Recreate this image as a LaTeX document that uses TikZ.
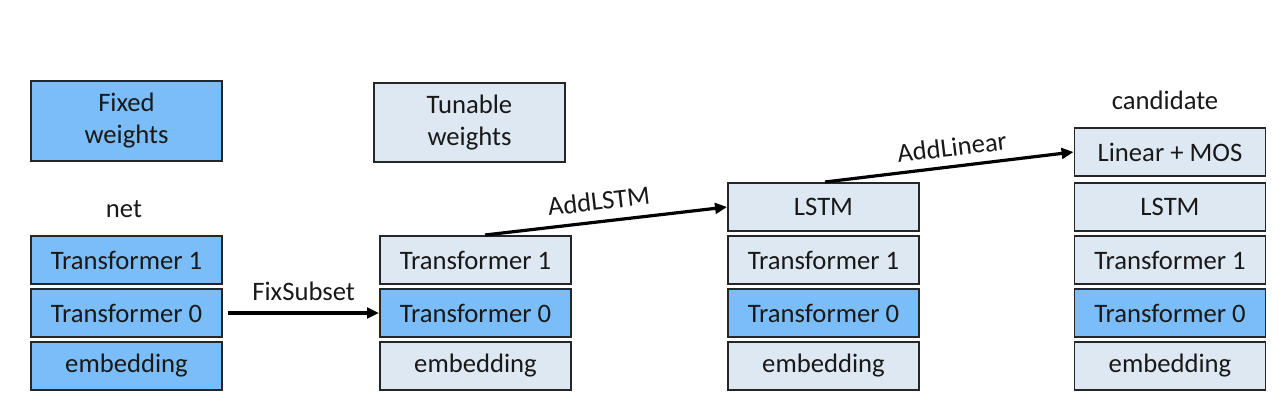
\documentclass[tikz,border=0pt]{standalone}
\usepackage{fontspec}
\setmainfont{Carlito}
\usetikzlibrary{arrows.meta}
\definecolor{fixedc}{HTML}{7BBDF8}
\definecolor{tunec}{HTML}{DEE8F3}
\begin{document}
\begin{tikzpicture}[x=0.75pt,y=-0.75pt,
  lay/.style={draw=black!85,line width=1.4pt,minimum width=191*0.75pt,minimum height=48*0.75pt,inner sep=0pt,font=\fontsize{20}{24}\selectfont,text=black!90},
  fixed/.style={lay,fill=fixedc},
  tune/.style={lay,fill=tunec},
  lbl/.style={font=\fontsize{20}{24}\selectfont,text=black!90},
  conn/.style={line width=2.4pt,-{Triangle[length=9pt,width=8pt]}}]
\useasboundingbox (0,0) rectangle (1288,420);
% legend
\node[fixed,minimum height=80*0.75pt,align=center] (leg1) at (126.5,121) {Fixed\\weights};
\node[tune,minimum height=79*0.75pt,align=center] (leg2) at (469.5,122.5) {Tunable\\weights};
% column 1
\node[lbl] (net) at (124,209) {net};
\node[fixed] (a1) at (126.5,260) {Transformer 1};
\node[fixed] (a0) at (126.5,313) {Transformer 0};
\node[fixed] (ae) at (126.5,366) {embedding};
% column 2
\node[tune] (b1) at (475.5,260) {Transformer 1};
\node[fixed] (b0) at (475.5,313) {Transformer 0};
\node[tune] (be) at (475.5,366) {embedding};
% column 3
\node[tune] (cl) at (823.5,207) {LSTM};
\node[tune] (c1) at (823.5,260) {Transformer 1};
\node[fixed] (c0) at (823.5,313) {Transformer 0};
\node[tune] (ce) at (823.5,366) {embedding};
% column 4
\node[lbl] (cand) at (1165,100) {candidate};
\node[tune] (dm) at (1170,152) {Linear + MOS};
\node[tune] (dl) at (1170,207) {LSTM};
\node[tune] (d1) at (1170,260) {Transformer 1};
\node[fixed] (d0) at (1170,313) {Transformer 0};
\node[tune] (de) at (1170,366) {embedding};
% connectors
\coordinate (s2) at (485,235);
\coordinate (s3) at (825,182);
\draw[conn] ([xshift=4pt]a0.east) -- (b0.west) node[lbl,midway,above=5pt] {FixSubset};
\draw[conn] (s2) -- (cl.west) node[lbl,pos=0.48,above=4pt,sloped] {AddLSTM};
\draw[conn] (s3) -- (dm.west) node[lbl,pos=0.52,above=3pt,sloped] {AddLinear};
\end{tikzpicture}
\end{document}
